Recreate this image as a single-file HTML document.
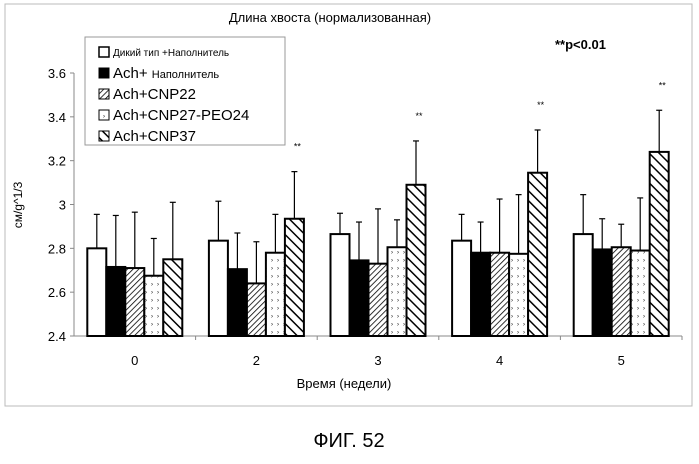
<!DOCTYPE html>
<html><head><meta charset="utf-8"><style>
body{margin:0;background:#fff;width:699px;height:459px;overflow:hidden;font-family:"Liberation Sans",Arial,sans-serif}
</style></head><body>
<svg width="699" height="459" font-family="Liberation Sans, Arial, sans-serif">
<defs>
<pattern id="pDiag" width="4" height="4" patternUnits="userSpaceOnUse" patternTransform="rotate(45)"><rect width="4" height="4" fill="#fff"/><line x1="0" y1="0" x2="0" y2="4" stroke="#000" stroke-width="1.6"/></pattern>
<pattern id="pDots" width="6" height="8" patternUnits="userSpaceOnUse"><rect width="6" height="8" fill="#fff"/><text x="1" y="6" font-size="6" fill="#000">›</text></pattern>
<pattern id="pWide" width="7" height="7" patternUnits="userSpaceOnUse" patternTransform="rotate(-45)"><rect width="7" height="7" fill="#fff"/><line x1="0" y1="0" x2="0" y2="7" stroke="#000" stroke-width="3"/></pattern>
</defs>
<rect x="5" y="4" width="687" height="402" fill="none" stroke="#bbb"/>
<text x="330" y="22" font-size="13" text-anchor="middle">Длина хвоста (нормализованная)</text>
<text x="555" y="49" font-size="13" font-weight="bold">**p&lt;0.01</text>
<g id="axes"></g>
<g id="bars"></g>
<text x="344" y="388" font-size="13" text-anchor="middle">Время (недели)</text>
<text transform="translate(22,205) rotate(-90)" font-size="12" text-anchor="middle">см/g^1/3</text>
<g>
<rect x="85" y="37" width="200" height="108" fill="#fff" stroke="#999"/>
<rect x="99" y="47" width="10" height="10" fill="#fff" stroke="#000" stroke-width="1.5"/><text x="113" y="56" font-size="10">Дикий тип +Наполнитель</text>
<rect x="99" y="68" width="10" height="10" fill="#000" stroke="#000"/><text x="113" y="78" font-size="15">Ach+ <tspan font-size="11">Наполнитель</tspan></text>
<rect x="99" y="89" width="10" height="10" fill="url(#pDiag)" stroke="#000"/><text x="113" y="99" font-size="15">Ach+CNP22</text>
<rect x="99" y="110" width="10" height="10" fill="url(#pDots)" stroke="#000"/><text x="113" y="120" font-size="15">Ach+CNP27-PEO24</text>
<rect x="99" y="131" width="10" height="10" fill="url(#pWide)" stroke="#000"/><text x="113" y="141" font-size="15">Ach+CNP37</text>
</g>
<text x="349" y="447" font-size="20" text-anchor="middle">ФИГ. 52</text>
</svg>
<script>
const categories=["0","2","3","4","5"];
const wildType=[2.80,2.835,2.865,2.835,2.865];
const achVehicle=[2.715,2.705,2.745,2.78,2.795];
const cnp22=[2.71,2.64,2.73,2.78,2.805];
const cnp27=[2.675,2.78,2.805,2.775,2.79];
const cnp37=[2.75,2.935,3.09,3.145,3.24];
const wildTypeErr=[2.955,3.015,2.96,2.955,3.045];
const achVehicleErr=[2.95,2.87,2.92,2.92,2.935];
const cnp22Err=[2.965,2.83,2.98,3.025,2.91];
const cnp27Err=[2.845,2.955,2.93,3.045,3.03];
const cnp37Err=[3.01,3.15,3.29,3.34,3.43];
const significant=[false,true,true,true,true];
const yTicks=[2.4,2.6,2.8,3,3.2,3.4,3.6];
const ns="http://www.w3.org/2000/svg";
const X0=74,X1=682,Y0=336,Y1=73,YMIN=2.4,YMAX=3.6;
const y=v=>Y0-(v-YMIN)/(YMAX-YMIN)*(Y0-Y1);
const gw=(X1-X0)/categories.length;
const xc=i=>X0+gw*(i+0.5);
function mk(t,a,p){const e=document.createElementNS(ns,t);for(const k in a)e.setAttribute(k,a[k]);p.appendChild(e);return e;}
const ax=document.getElementById('axes'),bg=document.getElementById('bars');
const yl=mk('line',{x1:X0,y1:Y1,x2:X0,y2:Y0,stroke:'#888'},ax);


const xl=mk('line',{x1:X0,y1:Y0,x2:X1,y2:Y0,stroke:'#888'},ax);


yTicks.forEach(v=>{mk('line',{x1:X0-4,y1:y(v),x2:X0,y2:y(v),stroke:'#888'},ax);
const t=mk('text',{x:X0-8,y:y(v)+5,'font-size':13,'text-anchor':'end'},ax);t.textContent=String(v);

});
categories.forEach((c,i)=>{mk('line',{x1:X0+gw*(i+1),y1:Y0,x2:X0+gw*(i+1),y2:Y0+4,stroke:'#888'},ax);
const t=mk('text',{x:xc(i),y:Y0+29,'font-size':13,'text-anchor':'middle'},ax);t.textContent=c;

});
const series=[[wildType,wildTypeErr,'#fff','wild-type'],[achVehicle,achVehicleErr,'#000','ach-vehicle'],[cnp22,cnp22Err,'url(#pDiag)','ach-cnp22'],[cnp27,cnp27Err,'url(#pDots)','ach-cnp27-peo24'],[cnp37,cnp37Err,'url(#pWide)','ach-cnp37']];
const bw=19;
categories.forEach((c,i)=>{series.forEach((s,j)=>{
const x=xc(i)-bw*2.5+j*bw;
const el=mk('line',{x1:x+bw/2,y1:y(s[1][i]),x2:x+bw/2,y2:y(s[0][i]),stroke:'#000','stroke-width':1.2},bg);


mk('line',{x1:x+bw/2-3,y1:y(s[1][i]),x2:x+bw/2+3,y2:y(s[1][i]),stroke:'#000','stroke-width':1.2},bg);
const r=mk('rect',{x:x,y:y(s[0][i]),width:bw,height:Y0-y(s[0][i]),fill:s[2],stroke:'#000','stroke-width':2},bg);


});
if(significant[i]){const x=xc(i)+bw*1.5+bw/2;const t=mk('text',{x:x+3,y:y(cnp37Err[i])-22,'font-size':9,'text-anchor':'middle'},bg);t.textContent='**';

}
});
</script>
</body></html>
